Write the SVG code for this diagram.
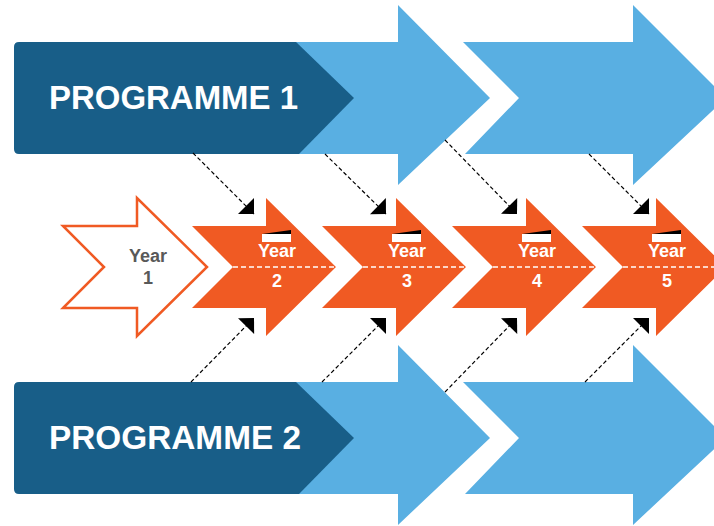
<svg xmlns="http://www.w3.org/2000/svg" width="714" height="526" viewBox="0 0 714 526">
<style>
.dark{fill:#185E88}
.light{fill:#59AFE2}
.ptext{font-family:"Liberation Sans",Arial,sans-serif;font-weight:bold;font-size:34px;fill:#FFFFFF}
.orange{fill:#F05A23}
.outline{fill:#FFFFFF;stroke:#F05A23;stroke-width:2.5;stroke-linejoin:miter}
.ytext{font-family:"Liberation Sans",Arial,sans-serif;font-weight:bold;font-size:18px;fill:#FFFFFF;text-anchor:middle}
.ytext1{font-family:"Liberation Sans",Arial,sans-serif;font-weight:bold;font-size:18px;fill:#595959;text-anchor:middle}
.mid{stroke:#FFFFFF;stroke-width:1.3;stroke-dasharray:5 3;fill:none}
.conn{stroke:#000000;stroke-width:1.2;stroke-dasharray:4 2.5;fill:none}
</style>
<defs>
<path id="chev" d="M0,226 H74 V198 L144,267 L74,336 V308 H0 L41,267 Z"/>
<marker id="tri" viewBox="-12 -12 24 24" refX="0" refY="0" markerWidth="24" markerHeight="24" markerUnits="userSpaceOnUse" orient="auto">
<path d="M0,0 L-11.3,-11.3 L-11.3,11.3 Z" fill="#000000"/>
</marker>
</defs>

<g id="programme1">
<polygon class="light" points="280,42 398,42 398,5 490,98 398,185 398,154 280,154"/>
<polygon class="light" points="463,42 633,42 633,5 726,98 633,185 633,154 465,154 519,98"/>
<path class="dark" d="M19,42 H296 L354,98 L299,154 H19 Q14,154 14,149 V47 Q14,42 19,42 Z"/>
<text class="ptext" x="49" y="109" textLength="249" lengthAdjust="spacingAndGlyphs">PROGRAMME 1</text>
</g>

<g id="programme2">
<polygon class="light" points="280,382 398,382 398,345 490,438 398,525 398,494 280,494"/>
<polygon class="light" points="463,382 633,382 633,345 726,438 633,525 633,494 465,494 519,438"/>
<path class="dark" d="M19,382 H296 L354,438 L299,494 H19 Q14,494 14,489 V387 Q14,382 19,382 Z"/>
<text class="ptext" x="49" y="449" textLength="252" lengthAdjust="spacingAndGlyphs">PROGRAMME 2</text>
</g>

<g id="connectors">
<line class="conn" x1="193" y1="153" x2="254" y2="214" marker-end="url(#tri)"/>
<line class="conn" x1="325" y1="154" x2="386" y2="214" marker-end="url(#tri)"/>
<line class="conn" x1="445" y1="140" x2="517" y2="214" marker-end="url(#tri)"/>
<line class="conn" x1="589" y1="154" x2="649" y2="214" marker-end="url(#tri)"/>
<line class="conn" x1="191" y1="382" x2="254" y2="318" marker-end="url(#tri)"/>
<line class="conn" x1="322" y1="382" x2="386" y2="318" marker-end="url(#tri)"/>
<line class="conn" x1="445" y1="392" x2="517" y2="318" marker-end="url(#tri)"/>
<line class="conn" x1="585" y1="382" x2="649" y2="318" marker-end="url(#tri)"/>
</g>

<g id="year1">
<use href="#chev" class="outline" transform="translate(63,0)"/>
<text class="ytext1" x="148" y="262">Year</text>
<text class="ytext1" x="148" y="284">1</text>
</g>

<g id="year2">
<use href="#chev" class="orange" transform="translate(192,0)"/>
<line class="mid" x1="233" y1="267" x2="336" y2="267"/>
<rect x="262" y="234" width="29" height="8" fill="#FFFFFF"/>
<polygon points="262,234 291,230 291,234" fill="#000000"/>
<text class="ytext" x="277" y="257">Year</text>
<text class="ytext" x="277" y="287">2</text>
</g>

<g id="year3">
<use href="#chev" class="orange" transform="translate(322,0)"/>
<line class="mid" x1="363" y1="267" x2="466" y2="267"/>
<rect x="392" y="234" width="29" height="8" fill="#FFFFFF"/>
<polygon points="392,234 421,230 421,234" fill="#000000"/>
<text class="ytext" x="407" y="257">Year</text>
<text class="ytext" x="407" y="287">3</text>
</g>

<g id="year4">
<use href="#chev" class="orange" transform="translate(452,0)"/>
<line class="mid" x1="493" y1="267" x2="596" y2="267"/>
<rect x="522" y="234" width="29" height="8" fill="#FFFFFF"/>
<polygon points="522,234 551,230 551,234" fill="#000000"/>
<text class="ytext" x="537" y="257">Year</text>
<text class="ytext" x="537" y="287">4</text>
</g>

<g id="year5">
<use href="#chev" class="orange" transform="translate(582,0)"/>
<line class="mid" x1="623" y1="267" x2="726" y2="267"/>
<rect x="652" y="234" width="29" height="8" fill="#FFFFFF"/>
<polygon points="652,234 681,230 681,234" fill="#000000"/>
<text class="ytext" x="667" y="257">Year</text>
<text class="ytext" x="667" y="287">5</text>
</g>
</svg>
